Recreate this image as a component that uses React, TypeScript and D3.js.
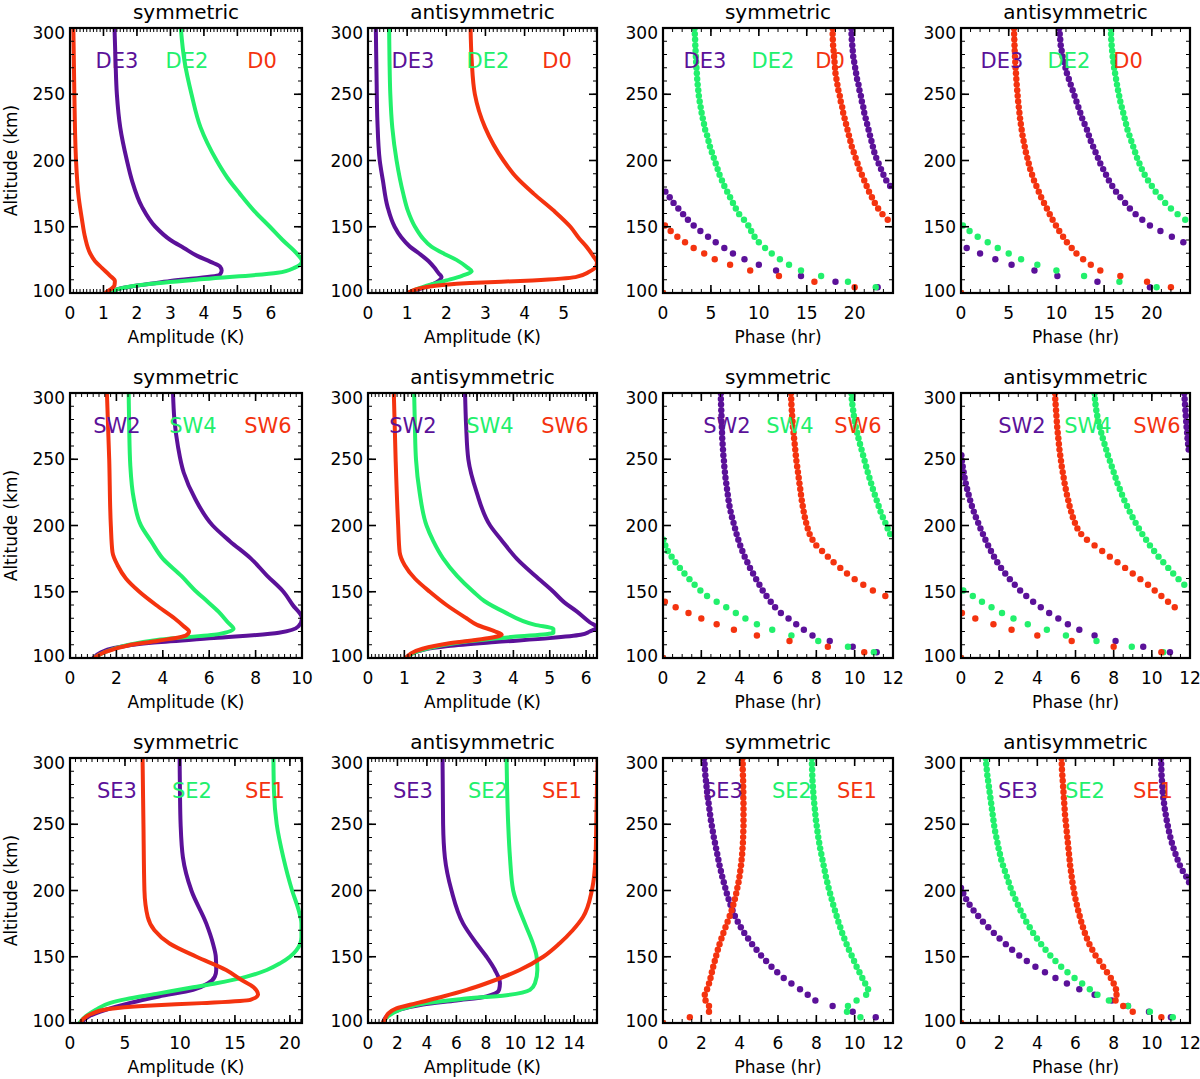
import React from 'react'
import * as d3 from 'd3'

// model altitude levels (km) used by all phase profiles
const altLevels = [
  100.0, 104.3, 108.5, 112.8, 117.0, 121.3, 125.5, 129.8,
  134.0, 138.3, 142.5, 146.8, 151.0, 155.3, 159.5, 163.8,
  168.0, 172.3, 176.5, 180.8, 185.0, 189.3, 193.5, 197.8,
  202.0, 206.3, 210.5, 214.8, 219.0, 223.3, 227.5, 231.8,
  236.0, 240.3, 244.5, 248.8, 253.0, 257.3, 261.5, 265.8,
  270.0, 274.3, 278.5, 282.8, 287.0, 291.3, 295.5, 299.8,
]

// amplitude profiles: [amplitude (K), altitude (km)]
const de3SymAmp = [[1.1, 100], [1.5, 103.5], [3.0, 109], [4.48, 114], [4.53, 117], [4.48, 120], [4.2, 123.5], [3.8, 128], [3.4, 134], [3.0, 140], [2.55, 150], [2.15, 165], [1.85, 185], [1.7, 200], [1.5, 225], [1.4, 250], [1.36, 275], [1.33, 300]]
const de2SymAmp = [[1.1, 100], [1.6, 104], [2.1, 106], [4.0, 110.5], [6.2, 115.3], [6.7, 119], [6.93, 124], [6.8, 129], [6.35, 140], [5.97, 150], [5.5, 162], [5.07, 175], [4.7, 187], [4.38, 200], [3.9, 225], [3.63, 250], [3.42, 275], [3.31, 300]]
const d0SymAmp = [[1.05, 100], [1.2, 102.5], [1.33, 106], [1.34, 109], [1.2, 113], [0.95, 119], [0.75, 124], [0.6, 130], [0.45, 142], [0.36, 155], [0.26, 172], [0.18, 200], [0.13, 250], [0.1, 300]]

const de3AntiAmp = [[1.02, 100], [1.3, 103], [1.6, 106], [1.82, 109.5], [1.88, 112], [1.8, 115], [1.7, 119], [1.55, 124], [1.3, 130], [1.07, 135], [0.85, 142], [0.68, 150], [0.5, 165], [0.38, 185], [0.3, 200], [0.24, 230], [0.22, 260], [0.2, 300]]
const de2AntiAmp = [[1.02, 100], [1.5, 105.5], [2.0, 109.5], [2.4, 113], [2.65, 116.5], [2.55, 119], [2.26, 125], [1.95, 129.5], [1.62, 135], [1.38, 142], [1.2, 150], [1.02, 162], [0.9, 175], [0.73, 200], [0.62, 225], [0.57, 250], [0.55, 275], [0.54, 300]]
const d0AntiAmp = [[1.02, 100], [1.5, 104.5], [2.6, 107.5], [4.2, 109.5], [5.3, 112], [5.65, 116], [5.83, 120], [5.85, 123], [5.75, 128], [5.58, 135], [5.4, 141], [5.17, 150], [4.75, 162], [4.23, 175], [3.8, 187], [3.46, 200], [2.99, 225], [2.73, 250], [2.65, 275], [2.62, 300]]

const sw2SymAmp = [[1.0, 100], [1.3, 104], [1.9, 107.5], [3.5, 111.5], [6.2, 115], [9.0, 119], [9.85, 124], [10.0, 130], [9.6, 140], [9.2, 150], [8.5, 162], [7.8, 175], [6.9, 188], [6.15, 200], [5.4, 220], [4.9, 240], [4.65, 260], [4.5, 280], [4.44, 300]]
const sw4SymAmp = [[1.04, 100], [1.5, 104.5], [2.4, 109.5], [3.9, 114], [6.4, 118], [7.05, 122], [6.8, 127], [6.4, 135], [5.9, 143], [5.45, 150], [4.8, 162], [4.0, 175], [3.5, 188], [3.06, 200], [2.75, 220], [2.6, 245], [2.55, 275], [2.53, 300]]
const sw6SymAmp = [[1.04, 100], [1.5, 104.5], [2.5, 109.5], [3.8, 113], [5.0, 117], [5.13, 120], [4.9, 124], [4.5, 130], [3.71, 140], [2.99, 150], [2.41, 160], [2.05, 170], [1.83, 180], [1.76, 200], [1.69, 250], [1.59, 300]]

const sw2AntiAmp = [[1.04, 100], [1.5, 106], [2.2, 109], [3.5, 112], [5.0, 115], [5.85, 117.5], [6.1, 120], [6.3, 123], [6.1, 127], [5.75, 135], [5.4, 142], [5.1, 150], [4.6, 162], [4.09, 175], [3.7, 188], [3.36, 200], [2.99, 225], [2.76, 250], [2.7, 275], [2.67, 300]]
const sw4AntiAmp = [[1.04, 100], [1.6, 107], [2.6, 112], [4.0, 116], [5.1, 119], [5.1, 122], [4.6, 125], [3.73, 135], [3.2, 143], [2.9, 150], [2.45, 162], [2.07, 175], [1.8, 188], [1.61, 200], [1.42, 225], [1.32, 250], [1.29, 275], [1.27, 300]]
const sw6AntiAmp = [[1.04, 100], [1.5, 107], [2.2, 111], [3.2, 114.5], [3.68, 117.5], [3.5, 120], [3.0, 125], [2.71, 130], [2.16, 140], [1.7, 150], [1.29, 160], [1.01, 170], [0.87, 180], [0.83, 200], [0.76, 250], [0.71, 300]]

const se3SymAmp = [[1.0, 100], [1.7, 105], [3.26, 110], [5.4, 115], [8.1, 120], [11.2, 125], [12.56, 130], [13.17, 135], [13.3, 140], [13.26, 150], [13.0, 160], [12.4, 175], [11.04, 200], [10.27, 225], [10.06, 250], [10.0, 275], [9.97, 300]]
const se2SymAmp = [[0.85, 100], [1.43, 105], [2.35, 110], [3.6, 115], [5.1, 118], [7.84, 122], [11.2, 127], [13.3, 130], [16.07, 135], [17.9, 140], [19.1, 145], [20.0, 150], [20.6, 155], [21.05, 165], [21.05, 175], [20.8, 185], [20.2, 200], [19.4, 225], [18.8, 250], [18.55, 275], [18.5, 300]]
const se1SymAmp = [[1.0, 100], [1.2, 103], [2.0, 107], [3.5, 110.5], [7.0, 113], [12.0, 115], [16.4, 117.5], [17.1, 121.5], [16.7, 127], [15.5, 133], [14.2, 140], [11.5, 150], [9.05, 160], [7.68, 170], [7.07, 180], [6.77, 200], [6.68, 250], [6.6, 300]]

const se3AntiAmp = [[1.0, 100], [1.36, 106], [2.15, 110], [3.74, 114], [6.0, 117], [8.05, 120], [8.9, 125], [8.96, 130], [8.62, 140], [8.05, 150], [7.37, 160], [6.46, 175], [5.67, 200], [5.22, 225], [5.1, 250], [5.06, 300]]
const se2AntiAmp = [[1.0, 100], [1.36, 105], [2.15, 110], [3.97, 115], [6.24, 118], [9.41, 121], [11.0, 125], [11.34, 130], [11.5, 140], [11.45, 150], [11.2, 160], [10.66, 175], [9.86, 200], [9.64, 225], [9.52, 250], [9.41, 300]]
const se1AntiAmp = [[1.0, 100], [1.2, 104], [1.36, 107], [1.93, 111], [3.3, 115], [5.1, 120], [6.7, 125], [8.05, 130], [10.3, 140], [11.9, 150], [13.0, 160], [13.9, 170], [14.6, 180], [15.2, 200], [15.45, 225], [15.5, 250], [15.55, 280], [15.6, 300]]

// phase profiles (hr) at altLevels
const de3SymPhase = [
  0, 22.4, 18.0, 14.4, 11.8, 10.0, 8.5, 7.3,
  6.4, 5.5, 4.7, 3.9, 3.2, 2.6, 2.1, 1.6,
  1.1, 0.7, 0.25, 23.7, 23.3, 23.0, 22.75, 22.5,
  22.25, 22.05, 21.9, 21.75, 21.6, 21.45, 21.3, 21.15,
  21.0, 20.9, 20.75, 20.65, 20.5, 20.4, 20.25, 20.15,
  20.05, 19.95, 19.85, 19.8, 19.75, 19.7, 19.67, 19.65,
]
const de2SymPhase = [
  0, 22.2, 19.3, 16.5, 14.4, 13.15, 12.2, 11.35,
  10.65, 10.0, 9.55, 9.2, 8.9, 8.45, 7.95, 7.6,
  7.3, 7.0, 6.7, 6.4, 6.15, 5.9, 5.7, 5.5,
  5.3, 5.1, 4.9, 4.75, 4.6, 4.4, 4.28, 4.15,
  4.03, 3.93, 3.83, 3.74, 3.68, 3.62, 3.57, 3.53,
  3.49, 3.46, 3.43, 3.4, 3.37, 3.35, 3.32, 3.3,
]
const d0SymPhase = [
  0, 20.0, 15.8, 12.1, 9.1, 7.0, 5.4, 4.3,
  3.2, 2.3, 1.5, 0.8, 0.2, 23.45, 22.9, 22.45,
  22.1, 21.8, 21.5, 21.25, 21.0, 20.75, 20.5, 20.3,
  20.1, 19.9, 19.7, 19.55, 19.4, 19.25, 19.1, 18.95,
  18.8, 18.7, 18.55, 18.45, 18.3, 18.2, 18.1, 18.0,
  17.95, 17.9, 17.85, 17.8, 17.75, 17.72, 17.7, 17.7,
]
const de3AntiPhase = [
  0, 19.8, 14.3, 10.1, 7.7, 5.3, 3.6, 2.0,
  0.6, 23.3, 22.1, 20.9, 19.8, 19.0, 18.3, 17.7,
  17.2, 16.7, 16.25, 15.85, 15.5, 15.2, 14.9, 14.6,
  14.35, 14.1, 13.85, 13.6, 13.4, 13.2, 12.95, 12.7,
  12.5, 12.3, 12.1, 11.9, 11.7, 11.5, 11.3, 11.1,
  10.95, 10.8, 10.65, 10.55, 10.45, 10.4, 10.35, 10.3,
]
const de2AntiPhase = [
  0, 20.5, 16.6, 12.9, 10.0, 8.0, 6.3, 5.0,
  3.85, 2.8, 1.75, 0.9, 0.2, 23.5, 22.7, 22.0,
  21.4, 20.9, 20.4, 20.0, 19.6, 19.25, 18.95, 18.7,
  18.45, 18.25, 18.05, 17.85, 17.65, 17.45, 17.3, 17.15,
  17.0, 16.85, 16.7, 16.58, 16.46, 16.35, 16.25, 16.15,
  16.05, 15.97, 15.9, 15.84, 15.79, 15.75, 15.72, 15.7,
]
const d0AntiPhase = [
  0, 22.0, 19.5, 16.7, 14.6, 13.6, 12.8, 12.1,
  11.6, 11.1, 10.7, 10.3, 9.95, 9.6, 9.3, 9.0,
  8.7, 8.4, 8.15, 7.9, 7.65, 7.45, 7.25, 7.1,
  6.95, 6.8, 6.68, 6.56, 6.45, 6.36, 6.27, 6.19,
  6.12, 6.05, 5.99, 5.94, 5.89, 5.84, 5.8, 5.76,
  5.72, 5.69, 5.66, 5.63, 5.61, 5.59, 5.57, 5.56,
]

const sw2SymPhase = [
  0, 11.15, 9.9, 8.7, 7.8, 7.35, 6.95, 6.55,
  6.15, 5.85, 5.62, 5.4, 5.2, 5.03, 4.86, 4.7,
  4.54, 4.4, 4.26, 4.14, 4.03, 3.93, 3.84, 3.76,
  3.68, 3.6, 3.53, 3.47, 3.42, 3.38, 3.34, 3.3,
  3.26, 3.23, 3.2, 3.18, 3.15, 3.13, 3.11, 3.09,
  3.08, 3.07, 3.06, 3.05, 3.04, 3.03, 3.02, 3.02,
]
const sw4SymPhase = [
  0, 11.0, 9.65, 8.1, 6.7, 5.7, 4.9, 4.3,
  3.8, 3.3, 2.8, 2.3, 1.95, 1.65, 1.38, 1.12,
  0.88, 0.65, 0.45, 0.25, 0.12, 0.02, 11.85, 11.72,
  11.6, 11.47, 11.35, 11.25, 11.15, 11.05, 10.95, 10.86,
  10.77, 10.68, 10.6, 10.52, 10.44, 10.36, 10.28, 10.2,
  10.13, 10.06, 10.0, 9.96, 9.92, 9.88, 9.85, 9.83,
]
const sw6SymPhase = [
  0, 10.5, 8.6, 6.6, 4.9, 3.7, 2.8, 2.0,
  1.33, 0.66, 0.1, 11.6, 10.95, 10.45, 10.0, 9.6,
  9.25, 8.9, 8.6, 8.3, 8.0, 7.8, 7.65, 7.55,
  7.47, 7.4, 7.34, 7.29, 7.24, 7.2, 7.16, 7.12,
  7.08, 7.04, 7.0, 6.96, 6.93, 6.9, 6.87, 6.84,
  6.81, 6.78, 6.76, 6.74, 6.72, 6.7, 6.69, 6.68,
]
const sw2AntiPhase = [
  0, 10.95, 9.55, 8.1, 7.0, 6.2, 5.6, 5.1,
  4.62, 4.18, 3.78, 3.42, 3.1, 2.82, 2.56, 2.32,
  2.1, 1.9, 1.73, 1.57, 1.42, 1.28, 1.15, 1.02,
  0.9, 0.78, 0.67, 0.57, 0.48, 0.4, 0.32, 0.25,
  0.19, 0.14, 0.09, 0.05, 0.02, 11.93, 11.9, 11.87,
  11.85, 11.82, 11.8, 11.78, 11.76, 11.74, 11.72, 11.7,
]
const sw4AntiPhase = [
  0, 10.6, 8.95, 7.1, 5.5, 4.5, 3.5, 2.75,
  2.15, 1.6, 1.1, 0.62, 0.12, 11.7, 11.4, 11.12,
  10.86, 10.6, 10.35, 10.12, 9.9, 9.7, 9.5, 9.32,
  9.15, 8.99, 8.84, 8.7, 8.56, 8.44, 8.32, 8.2,
  8.1, 8.0, 7.9, 7.8, 7.7, 7.61, 7.52, 7.43,
  7.35, 7.27, 7.2, 7.14, 7.09, 7.05, 7.02, 7.0,
]
const sw6AntiPhase = [
  0, 10.5, 8.0, 5.8, 4.0, 2.65, 1.7, 0.75,
  0.05, 11.2, 10.85, 10.5, 10.15, 9.8, 9.4, 9.0,
  8.6, 8.2, 7.8, 7.4, 7.0, 6.6, 6.3, 6.1,
  5.97, 5.86, 5.77, 5.69, 5.62, 5.55, 5.49, 5.43,
  5.38, 5.33, 5.28, 5.24, 5.2, 5.16, 5.13, 5.1,
  5.07, 5.04, 5.02, 5.0, 4.98, 4.96, 4.94, 4.93,
]

const se3SymPhase = [
  0, 11.1, 9.9, 8.85, 7.95, 7.55, 7.15, 6.7,
  6.3, 5.96, 5.66, 5.38, 5.12, 4.88, 4.65, 4.44,
  4.24, 4.06, 3.9, 3.75, 3.63, 3.52, 3.42, 3.33,
  3.25, 3.17, 3.09, 3.02, 2.95, 2.89, 2.83, 2.77,
  2.71, 2.65, 2.6, 2.55, 2.5, 2.46, 2.42, 2.38,
  2.34, 2.3, 2.27, 2.24, 2.21, 2.19, 2.17, 2.15,
]
const se2SymPhase = [
  0, 10.3, 9.6, 9.65, 10.1, 10.6, 10.7, 10.55,
  10.4, 10.25, 10.1, 9.97, 9.84, 9.7, 9.58, 9.46,
  9.35, 9.25, 9.15, 9.06, 8.97, 8.88, 8.8, 8.72,
  8.64, 8.57, 8.5, 8.44, 8.38, 8.32, 8.26, 8.2,
  8.15, 8.1, 8.06, 8.02, 7.98, 7.95, 7.92, 7.89,
  7.86, 7.84, 7.82, 7.8, 7.79, 7.78, 7.77, 7.77,
]
const se1SymPhase = [
  0, 1.4, 2.4, 2.4, 2.22, 2.18, 2.3, 2.4,
  2.48, 2.55, 2.62, 2.7, 2.78, 2.86, 2.95, 3.05,
  3.15, 3.26, 3.37, 3.48, 3.58, 3.67, 3.75, 3.82,
  3.88, 3.94, 3.99, 4.03, 4.07, 4.1, 4.13, 4.15,
  4.17, 4.18, 4.19, 4.2, 4.2, 4.2, 4.2, 4.2,
  4.19, 4.19, 4.18, 4.18, 4.17, 4.16, 4.16, 4.15,
]
const se3AntiPhase = [
  0, 11.0, 9.85, 8.75, 7.9, 7.0, 6.2, 5.55,
  4.95, 4.4, 3.9, 3.45, 3.05, 2.68, 2.35, 2.02,
  1.72, 1.43, 1.15, 0.9, 0.66, 0.45, 0.27, 0.12,
  0.0, 11.95, 11.8, 11.62, 11.47, 11.35, 11.24, 11.14,
  11.05, 10.97, 10.9, 10.84, 10.78, 10.73, 10.68, 10.64,
  10.6, 10.57, 10.55, 10.53, 10.51, 10.5, 10.49, 10.48,
]
const se2AntiPhase = [
  0, 11.1, 9.9, 8.75, 7.75, 7.15, 6.75, 6.35,
  5.95, 5.58, 5.25, 4.95, 4.68, 4.43, 4.2, 3.98,
  3.78, 3.6, 3.42, 3.27, 3.12, 2.98, 2.85, 2.72,
  2.6, 2.5, 2.4, 2.3, 2.2, 2.11, 2.04, 1.97,
  1.91, 1.85, 1.79, 1.74, 1.7, 1.66, 1.62, 1.58,
  1.54, 1.5, 1.46, 1.42, 1.38, 1.35, 1.32, 1.3,
]
const se1AntiPhase = [
  0, 10.5, 9.0, 8.5, 8.1, 8.15, 8.12, 8.0,
  7.85, 7.65, 7.45, 7.25, 7.05, 6.88, 6.73, 6.6,
  6.49, 6.39, 6.3, 6.22, 6.14, 6.07, 6.0, 5.94,
  5.89, 5.84, 5.8, 5.76, 5.72, 5.69, 5.66, 5.63,
  5.6, 5.57, 5.54, 5.51, 5.48, 5.45, 5.43, 5.41,
  5.39, 5.37, 5.35, 5.33, 5.31, 5.29, 5.28, 5.27,
]

const diurnalNames = ['DE3', 'DE2', 'D0']
const semiWestNames = ['SW2', 'SW4', 'SW6']
const semiEastNames = ['SE3', 'SE2', 'SE1']

const PURPLE = '#5b1199'
const GREEN = '#22f06c'
const RED = '#f4330f'
const seriesColors = [PURPLE, GREEN, RED]
const FONT = '"DejaVu Sans", sans-serif'

const colLeft = [70, 368, 663, 961]
const colWidth = [232, 229, 230, 229]
const rowTop = [28, 393, 758]
const plotH = 265

const panels = [
  { row: 0, col: 0, kind: 'amp', title: 'symmetric', xMax: 6.93, xTicks: [0, 1, 2, 3, 4, 5, 6], minor: 0.1, names: diurnalNames, series: [de3SymAmp, de2SymAmp, d0SymAmp], labelX: [47, 117, 192] },
  { row: 0, col: 1, kind: 'amp', title: 'antisymmetric', xMax: 5.85, xTicks: [0, 1, 2, 3, 4, 5], minor: 0.1, names: diurnalNames, series: [de3AntiAmp, de2AntiAmp, d0AntiAmp], labelX: [45, 120, 189] },
  { row: 0, col: 2, kind: 'phase', title: 'symmetric', xMax: 24, xTicks: [0, 5, 10, 15, 20], minor: 1, names: diurnalNames, series: [de3SymPhase, de2SymPhase, d0SymPhase], labelX: [42, 110, 167] },
  { row: 0, col: 3, kind: 'phase', title: 'antisymmetric', xMax: 24, xTicks: [0, 5, 10, 15, 20], minor: 1, names: diurnalNames, series: [de3AntiPhase, de2AntiPhase, d0AntiPhase], labelX: [41, 108, 167] },
  { row: 1, col: 0, kind: 'amp', title: 'symmetric', xMax: 10, xTicks: [0, 2, 4, 6, 8, 10], minor: 0.25, names: semiWestNames, series: [sw2SymAmp, sw4SymAmp, sw6SymAmp], labelX: [47, 123, 198] },
  { row: 1, col: 1, kind: 'amp', title: 'antisymmetric', xMax: 6.3, xTicks: [0, 1, 2, 3, 4, 5, 6], minor: 0.1, names: semiWestNames, series: [sw2AntiAmp, sw4AntiAmp, sw6AntiAmp], labelX: [45, 122, 197] },
  { row: 1, col: 2, kind: 'phase', title: 'symmetric', xMax: 12, xTicks: [0, 2, 4, 6, 8, 10, 12], minor: 0.5, names: semiWestNames, series: [sw2SymPhase, sw4SymPhase, sw6SymPhase], labelX: [64, 127, 195] },
  { row: 1, col: 3, kind: 'phase', title: 'antisymmetric', xMax: 12, xTicks: [0, 2, 4, 6, 8, 10, 12], minor: 0.5, names: semiWestNames, series: [sw2AntiPhase, sw4AntiPhase, sw6AntiPhase], labelX: [61, 127, 196] },
  { row: 2, col: 0, kind: 'amp', title: 'symmetric', xMax: 21.1, xTicks: [0, 5, 10, 15, 20], minor: 0.5, names: semiEastNames, series: [se3SymAmp, se2SymAmp, se1SymAmp], labelX: [47, 122, 195] },
  { row: 2, col: 1, kind: 'amp', title: 'antisymmetric', xMax: 15.55, xTicks: [0, 2, 4, 6, 8, 10, 12, 14], minor: 0.25, names: semiEastNames, series: [se3AntiAmp, se2AntiAmp, se1AntiAmp], labelX: [45, 120, 194] },
  { row: 2, col: 2, kind: 'phase', title: 'symmetric', xMax: 12, xTicks: [0, 2, 4, 6, 8, 10, 12], minor: 0.5, names: semiEastNames, series: [se3SymPhase, se2SymPhase, se1SymPhase], labelX: [60, 129, 194] },
  { row: 2, col: 3, kind: 'phase', title: 'antisymmetric', xMax: 12, xTicks: [0, 2, 4, 6, 8, 10, 12], minor: 0.5, names: semiEastNames, series: [se3AntiPhase, se2AntiPhase, se1AntiPhase], labelX: [57, 124, 192] },
]

const altTicks = [100, 150, 200, 250, 300]

const Panel = ({ p, idx }: { p: any; idx: number }) => {
  const left = colLeft[p.col]
  const width = colWidth[p.col]
  const top = rowTop[p.row]
  const bottom = top + plotH
  const x = d3.scaleLinear().domain([0, p.xMax]).range([left, left + width])
  const y = d3.scaleLinear().domain([100, 300]).range([bottom, top])
  const clipId = `clip-${idx}`

  const line = d3
    .line<number[]>()
    .x(d => x(d[0]))
    .y(d => y(d[1]))
    .curve(d3.curveMonotoneY)

  const minorX = d3.range(0, p.xMax + 1e-9, p.minor)
  const minorY = d3.range(100, 301, 10)

  return (
    <g>
      <g clipPath={`url(#${clipId})`}>
        {p.series.map((s: any, i: number) =>
          p.kind === 'amp' ? (
            <path key={i} d={line(s) || ''} fill="none" stroke={seriesColors[i]} strokeWidth={4} strokeLinejoin="round" />
          ) : (
            <g key={i} fill={seriesColors[i]}>
              {s.map((v: number, j: number) => (
                <circle key={j} cx={x(v)} cy={y(altLevels[j])} r={3.2} />
              ))}
            </g>
          )
        )}
      </g>

      {/* minor ticks */}
      <g stroke="#000" strokeWidth={1}>
        {minorX.map((t, i) => (
          <g key={`mx${i}`}>
            <line x1={x(t)} x2={x(t)} y1={bottom} y2={bottom - 4} />
            <line x1={x(t)} x2={x(t)} y1={top} y2={top + 4} />
          </g>
        ))}
        {minorY.map((t, i) => (
          <g key={`my${i}`}>
            <line x1={left} x2={left + 4} y1={y(t)} y2={y(t)} />
            <line x1={left + width} x2={left + width - 4} y1={y(t)} y2={y(t)} />
          </g>
        ))}
      </g>
      {/* major ticks */}
      <g stroke="#000" strokeWidth={1.6}>
        {p.xTicks.map((t: number) => (
          <g key={`Mx${t}`}>
            <line x1={x(t)} x2={x(t)} y1={bottom} y2={bottom - 8} />
            <line x1={x(t)} x2={x(t)} y1={top} y2={top + 8} />
          </g>
        ))}
        {altTicks.map(t => (
          <g key={`My${t}`}>
            <line x1={left} x2={left + 8} y1={y(t)} y2={y(t)} />
            <line x1={left + width} x2={left + width - 8} y1={y(t)} y2={y(t)} />
          </g>
        ))}
      </g>
      <rect x={left} y={top} width={width} height={plotH} fill="none" stroke="#000" strokeWidth={2.2} />

      {/* tick labels */}
      <g fontFamily={FONT} fontSize={17} fill="#000">
        {p.xTicks.map((t: number) => (
          <text key={`lx${t}`} x={x(t)} y={bottom + 26} textAnchor="middle">{t}</text>
        ))}
        {altTicks.map(t => (
          <text key={`ly${t}`} x={left - 5} y={Math.min(Math.max(y(t), top + 5), bottom - 2)} dy="0.36em" textAnchor="end">{t}</text>
        ))}
      </g>

      <text x={left + width / 2} y={bottom + 50} textAnchor="middle" fontFamily={FONT} fontSize={17}>
        {p.kind === 'amp' ? 'Amplitude (K)' : 'Phase (hr)'}
      </text>
      <text x={left + width / 2} y={top - 9} textAnchor="middle" fontFamily={FONT} fontSize={20}>
        {p.title}
      </text>
      {p.col === 0 && (
        <text transform={`translate(17, ${top + plotH / 2}) rotate(-90)`} textAnchor="middle" fontFamily={FONT} fontSize={17}>
          Altitude (km)
        </text>
      )}

      {p.names.map((n: string, i: number) => (
        <text key={n} x={left + p.labelX[i]} y={top + 40} textAnchor="middle" fontFamily={FONT} fontSize={21} fill={seriesColors[i]}>
          {n}
        </text>
      ))}

      <defs>
        <clipPath id={clipId}>
          <rect x={left} y={top} width={width} height={plotH} />
        </clipPath>
      </defs>
    </g>
  )
}

const App = () => {
  return (
    <svg
      width={1200}
      height={1079}
      style={{ position: 'absolute', left: 0, top: 0, background: '#fff' }}
    >
      <rect width={1200} height={1079} fill="#fff" />
      {panels.map((p, i) => (
        <Panel key={i} p={p} idx={i} />
      ))}
    </svg>
  )
}

export default App
